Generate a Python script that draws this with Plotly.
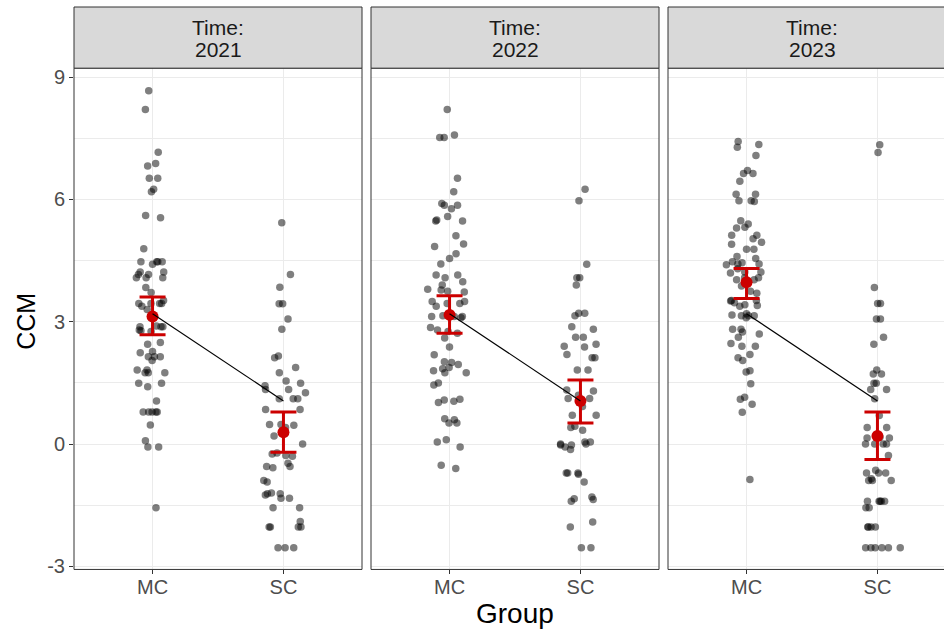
import plotly.graph_objects as go

# ---- data -------------------------------------------------------------
years = ["2021", "2022", "2023"]
groups = ["MC", "SC"]

ccm_mc_2021 = [8.67, 8.21, 7.16, 6.88, 6.82, 6.52, 6.52, 6.25, 6.19, 5.61, 5.55, 4.79,
               4.47, 4.47, 4.47, 4.47, 4.41, 4.22, 4.22, 4.16, 4.16, 4.08, 4.08, 4.08,
               3.84, 3.72, 3.52, 3.45, 3.45, 3.45, 3.45, 3.38, 3.30, 2.90, 2.88, 2.88,
               2.88, 2.80, 2.78, 2.76, 2.49, 2.45, 2.27, 2.24, 2.14, 2.14, 2.14, 2.05,
               1.82, 1.82, 1.75, 1.75, 1.75, 1.49, 1.49, 1.41, 1.06, 0.79, 0.79, 0.79,
               0.79, 0.79, 0.47, 0.08, -0.07, -0.07, -1.56]
ccm_sc_2021 = [5.43, 4.16, 3.85, 3.44, 3.44, 3.07, 2.82, 2.16, 2.12, 1.88, 1.75, 1.55,
               1.49, 1.43, 1.34, 1.34, 1.26, 1.11, 1.11, 1.11, 0.85, 0.85, 0.48, 0.48,
               0.46, 0.41, 0.20, 0.00, -0.22, -0.24, -0.28, -0.30, -0.47, -0.55, -0.55,
               -0.58, -0.89, -0.93, -1.20, -1.22, -1.25, -1.22, -1.33, -1.33, -1.56,
               -1.56, -1.90, -2.03, -2.03, -2.03, -2.03, -2.54, -2.54, -2.54]
ccm_mc_2022 = [8.21, 7.58, 7.52, 7.52, 6.52, 6.19, 5.90, 5.86, 5.86, 5.77, 5.58, 5.50,
               5.47, 5.47, 5.11, 4.91, 4.85, 4.67, 4.55, 4.42, 4.15, 4.15, 4.08, 3.98,
               3.90, 3.80, 3.75, 3.73, 3.78, 3.50, 3.50, 3.45, 3.45, 3.38, 3.13, 3.13,
               3.15, 3.13, 3.10, 2.86, 2.80, 2.76, 2.72, 2.60, 2.38, 2.19, 2.02, 2.00,
               1.95, 1.88, 1.85, 1.75, 1.75, 1.80, 1.50, 1.45, 1.10, 1.08, 1.05, 1.02,
               0.60, 0.62, 0.52, 0.52, 0.11, 0.05, -0.07, -0.52, -0.60]
ccm_sc_2022 = [6.25, 5.97, 4.41, 4.08, 4.08, 3.90, 3.21, 3.21, 3.15, 2.88, 2.82, 2.62,
               2.62, 2.45, 2.40, 2.38, 2.20, 2.12, 2.12, 1.82, 1.82, 1.33, 1.30, 1.20,
               1.12, 1.12, 0.92, 0.71, 0.71, 0.44, 0.41, 0.34, 0.05, 0.05, 0.00, 0.00,
               -0.02, -0.02, -0.07, -0.13, -0.71, -0.71, -0.71, -0.74, -0.93, -1.30,
               -1.34, -1.36, -1.40, -1.91, -2.03, -2.54, -2.54]
ccm_mc_2023 = [7.42, 7.35, 7.28, 7.08, 6.71, 6.64, 6.64, 6.45, 6.13, 6.13, 5.97, 5.97,
               5.95, 5.48, 5.40, 5.32, 5.30, 5.12, 5.12, 5.04, 4.90, 4.95, 4.78, 4.78,
               4.60, 4.55, 4.47, 4.45, 4.42, 4.42, 4.40, 4.20, 4.30, 4.22, 4.22, 4.03,
               4.08, 4.03, 4.08, 3.88, 3.75, 3.70, 3.47, 3.40, 3.52, 3.51, 3.42, 3.52,
               3.38, 3.10, 3.17, 3.20, 3.15, 3.15, 3.15, 2.82, 2.82, 2.75, 2.70, 2.62,
               2.40, 2.40, 2.47, 2.12, 2.20, 2.05, 1.77, 1.80, 1.48, 1.15, 1.10, 0.98,
               0.78, -0.87]
ccm_sc_2023 = [7.34, 7.15, 3.84, 3.45, 3.45, 3.07, 3.07, 2.62, 2.45, 1.82, 1.72, 1.72,
               1.49, 1.49, 1.34, 1.34, 1.11, 0.70, 0.41, 0.41, 0.15, 0.17, 0.15, 0.00,
               0.00, 0.00, 0.00, -0.28, -0.64, -0.71, -0.71, -0.71, -0.89, -0.85, -0.89,
               -0.89, -1.40, -1.40, -1.40, -1.40, -1.40, -1.56, -1.56, -2.03, -2.03,
               -2.03, -2.03, -2.54, -2.54, -2.54, -2.54, -2.54, -2.54]

# group means with 95% confidence limits, per year (MC, SC)
mean_ccm = {"2021": [3.13, 0.29], "2022": [3.17, 1.06], "2023": [3.97, 0.20]}
ci_low = {"2021": [2.68, -0.20], "2022": [2.72, 0.52], "2023": [3.57, -0.38]}
ci_high = {"2021": [3.61, 0.79], "2022": [3.64, 1.57], "2023": [4.31, 0.79]}

# overall trend line between the groups
trend_ccm = [3.20, 1.06]

y_ticks = [-3, 0, 3, 6, 9]

raw = {
    "2021": (ccm_mc_2021, ccm_sc_2021),
    "2022": (ccm_mc_2022, ccm_sc_2022),
    "2023": (ccm_mc_2023, ccm_sc_2023),
}

# ---- layout geometry ------------------------------------------------------
W, H = 944, 646
Y_OFF, Y_SCALE = 3.0, 0.982
panel_px = [(74, 362), (371, 659), (668, 956)]
top_px, bottom_px = 69, 569
strip_top_px = 8
y_range = [-3.074, 9.221]
x_span = [-0.6, 1.6]

FONT = "Liberation Sans, Arial, sans-serif"
RED = "#CC0000"
BORDER = "#333333"
GRID = "#EBEBEB"
TICK_SIZE = 20
STRIP_SIZE = 21
YTITLE_SIZE = 25
XTITLE_SIZE = 28


def px_x(v):
    return v / W


def px_y(v):
    page = (v - Y_OFF) / Y_SCALE
    return (H - page) / H


fig = go.Figure()
layout = {}
shapes = []
annotations = []

for i, yr in enumerate(years):
    n = "" if i == 0 else str(i + 1)
    xa, ya = "x" + n, "y" + n
    mc, sc = raw[yr]

    fig.add_trace(go.Box(
        x=["MC"] * len(mc) + ["SC"] * len(sc),
        y=mc + sc,
        xaxis=xa, yaxis=ya,
        boxpoints="all", jitter=0.72, pointpos=0,
        fillcolor="rgba(0,0,0,0)",
        line=dict(color="rgba(0,0,0,0)", width=0),
        whiskerwidth=0,
        marker=dict(color="rgba(0,0,0,0.5)", size=7.5, line=dict(width=0)),
        hoveron="points", showlegend=False,
    ))

    m = mean_ccm[yr]
    fig.add_trace(go.Scatter(
        x=groups, y=m, xaxis=xa, yaxis=ya, mode="markers",
        marker=dict(color=RED, size=12),
        error_y=dict(
            type="data", symmetric=False,
            array=[h - v for h, v in zip(ci_high[yr], m)],
            arrayminus=[v - l for v, l in zip(m, ci_low[yr])],
            color=RED, thickness=3, width=13,
        ),
        showlegend=False,
    ))

    fig.add_trace(go.Scatter(
        x=groups, y=trend_ccm, xaxis=xa, yaxis=ya, mode="lines",
        line=dict(color="black", width=1.2), showlegend=False,
    ))

    x0p, x1p = panel_px[i]
    dom_x1 = min(x1p, W)
    full_w = x1p - x0p
    vis_hi = x_span[0] + (dom_x1 - x0p) / full_w * (x_span[1] - x_span[0])

    layout["xaxis" + n] = dict(
        domain=[px_x(x0p), px_x(dom_x1)], anchor=ya,
        type="category", categoryorder="array", categoryarray=groups,
        range=[x_span[0], vis_hi],
        showgrid=True, gridcolor=GRID, gridwidth=1.1, zeroline=False,
        showline=False, ticks="outside", ticklen=4, tickwidth=1, tickcolor=BORDER,
        ticklabelstandoff=-4,
        tickfont=dict(family=FONT, size=TICK_SIZE, color="#4D4D4D"),
        fixedrange=True,
    )
    layout["yaxis" + n] = dict(
        domain=[px_y(bottom_px), px_y(top_px)], anchor=xa,
        range=y_range, tickvals=y_ticks, ticktext=[str(t) for t in y_ticks],
        showgrid=True, gridcolor=GRID, gridwidth=1.1, zeroline=False,
        minor=dict(dtick=1.5, tick0=0, showgrid=True, gridcolor=GRID, gridwidth=0.6,
                   ticks=""),
        showline=False,
        ticks="outside" if i == 0 else "", ticklen=4, tickwidth=1, tickcolor=BORDER,
        showticklabels=(i == 0),
        tickfont=dict(family=FONT, size=TICK_SIZE, color="#4D4D4D"),
        fixedrange=True,
    )

    # panel border
    shapes.append(dict(type="rect", xref="paper", yref="paper",
                       x0=px_x(x0p), x1=px_x(x1p), y0=px_y(bottom_px), y1=px_y(top_px),
                       line=dict(color=BORDER, width=1), fillcolor="rgba(0,0,0,0)",
                       layer="above"))
    # facet strip
    shapes.append(dict(type="rect", xref="paper", yref="paper",
                       x0=px_x(x0p), x1=px_x(x1p), y0=px_y(top_px), y1=px_y(strip_top_px),
                       line=dict(color=BORDER, width=1), fillcolor="#D9D9D9",
                       layer="above"))
    cx = px_x((x0p + x1p) / 2)
    for txt, ypx in (("Time:", 28.5), (yr, 50)):
        annotations.append(dict(
            xref="paper", yref="paper", x=cx, y=px_y(ypx),
            text=txt, showarrow=False, xanchor="center", yanchor="middle",
            font=dict(family=FONT, size=STRIP_SIZE, color="#1A1A1A"),
        ))

annotations.append(dict(
    xref="paper", yref="paper", x=px_x(26), y=px_y(322),
    text="CCM", textangle=-90, showarrow=False,
    xanchor="center", yanchor="middle",
    font=dict(family=FONT, size=YTITLE_SIZE, color="black"),
))
annotations.append(dict(
    xref="paper", yref="paper", x=px_x((panel_px[0][0] + panel_px[2][1]) / 2),
    y=px_y(613), text="Group", showarrow=False,
    xanchor="center", yanchor="middle",
    font=dict(family=FONT, size=XTITLE_SIZE, color="black"),
))

fig.update_layout(
    width=W, height=H,
    margin=dict(l=0, r=0, t=0, b=0, pad=0),
    paper_bgcolor="white", plot_bgcolor="white",
    font=dict(family=FONT),
    shapes=shapes, annotations=annotations,
    boxmode="overlay", showlegend=False,
    **layout,
)

fig.write_html("out.html")
